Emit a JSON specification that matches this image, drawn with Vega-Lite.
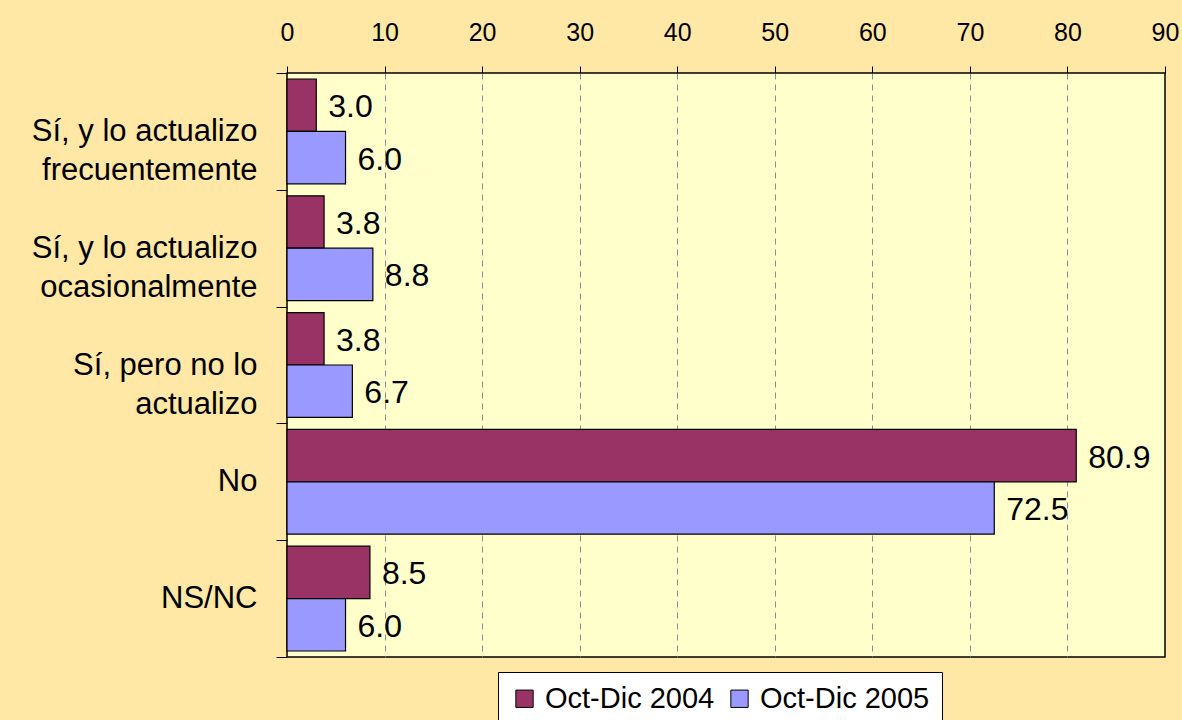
{
  "$schema": "https://vega.github.io/schema/vega-lite/v6.json",
  "width": 878,
  "height": 584,
  "autosize": {"type": "none"},
  "padding": {"left": 287, "top": 73, "right": 17, "bottom": 63},
  "background": "#FFE8A6",
  "config": {
    "font": "Liberation Sans",
    "view": {"fill": "#FFFFCC", "stroke": "#000000", "strokeWidth": 1.5}
  },
  "data": {
    "values": [
      {"categoria": "Sí, y lo actualizo\nfrecuentemente", "periodo": "Oct-Dic 2004", "valor": 3.0},
      {"categoria": "Sí, y lo actualizo\nfrecuentemente", "periodo": "Oct-Dic 2005", "valor": 6.0},
      {"categoria": "Sí, y lo actualizo\nocasionalmente", "periodo": "Oct-Dic 2004", "valor": 3.8},
      {"categoria": "Sí, y lo actualizo\nocasionalmente", "periodo": "Oct-Dic 2005", "valor": 8.8},
      {"categoria": "Sí, pero no lo\nactualizo", "periodo": "Oct-Dic 2004", "valor": 3.8},
      {"categoria": "Sí, pero no lo\nactualizo", "periodo": "Oct-Dic 2005", "valor": 6.7},
      {"categoria": "No", "periodo": "Oct-Dic 2004", "valor": 80.9},
      {"categoria": "No", "periodo": "Oct-Dic 2005", "valor": 72.5},
      {"categoria": "NS/NC", "periodo": "Oct-Dic 2004", "valor": 8.5},
      {"categoria": "NS/NC", "periodo": "Oct-Dic 2005", "valor": 6.0}
    ]
  },
  "encoding": {
    "y": {
      "field": "categoria", "type": "nominal", "sort": null,
      "scale": {"paddingInner": 0, "paddingOuter": 0},
      "axis": {
        "orient": "left", "title": null, "domain": false, "grid": false,
        "tickBand": "extent", "tickSize": 11, "tickColor": "#000000", "tickWidth": 1,
        "labelFontSize": 31, "labelColor": "#000000", "labelPadding": 19,
        "labelLineHeight": 39, "labelAlign": "right", "labelBaseline": "middle",
        "labelLimit": 0, "labelExpr": "split(datum.label, '\\n')"
      }
    },
    "yOffset": {
      "field": "periodo", "type": "nominal", "sort": null,
      "scale": {"paddingInner": 0, "paddingOuter": 0.115}
    },
    "x": {
      "field": "valor", "type": "quantitative",
      "scale": {"domain": [0, 90], "nice": false},
      "axis": {
        "orient": "top", "title": null, "domain": false,
        "values": [0, 10, 20, 30, 40, 50, 60, 70, 80, 90],
        "tickSize": 7, "tickColor": "#000000", "tickWidth": 1,
        "labelFontSize": 25, "labelColor": "#000000", "labelPadding": 21,
        "labelFlush": false, "labelOverlap": false,
        "grid": true, "gridDash": [6, 5], "gridColor": "#8C8C8C", "gridWidth": 1,
        "gridOpacity": {"condition": {"test": "datum.value == 0 || datum.value == 90", "value": 0}, "value": 1}
      }
    }
  },
  "layer": [
    {
      "mark": {"type": "bar", "stroke": "#000000", "strokeWidth": 1.2},
      "encoding": {
        "color": {
          "field": "periodo", "type": "nominal", "sort": null,
          "scale": {"domain": ["Oct-Dic 2004", "Oct-Dic 2005"], "range": ["#993366", "#9999FF"]},
          "legend": {
            "orient": "none", "legendX": 211, "legendY": 599,
            "direction": "horizontal", "title": null,
            "fillColor": "#FFFFFF", "strokeColor": "#000000", "padding": 12,
            "symbolType": "square", "symbolSize": 300,
            "symbolStrokeColor": "#000000", "symbolStrokeWidth": 1,
            "labelFontSize": 29, "labelColor": "#000000", "labelOffset": 6,
            "columnPadding": 10, "labelLimit": 0
          }
        }
      }
    },
    {
      "mark": {"type": "text", "align": "left", "baseline": "middle", "dx": 12, "dy": 2, "fontSize": 32, "color": "#000000"},
      "encoding": {
        "text": {"field": "valor", "type": "quantitative", "format": ".1f"}
      }
    }
  ]
}
